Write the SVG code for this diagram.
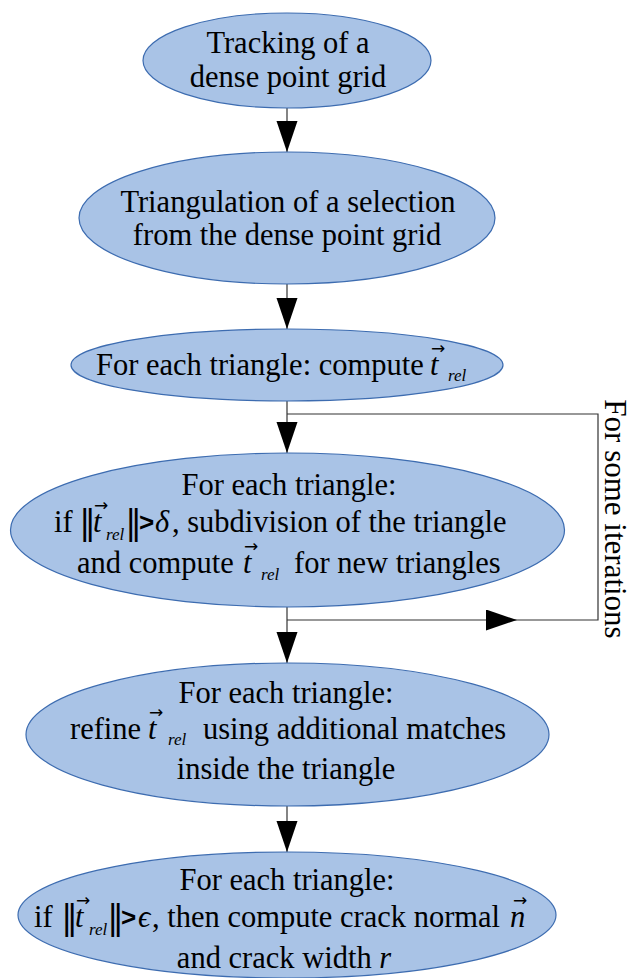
<svg xmlns="http://www.w3.org/2000/svg" width="632" height="978" viewBox="0 0 632 978">
  <style>
    .node { fill: #a9c3e6; stroke: #3d6cb0; stroke-width: 1.2; }
    .t { font-family: "Liberation Serif", "Times New Roman", serif; font-size: 30.5px; fill: #000; }
    .c { text-anchor: middle; }
    .it { font-style: italic; }
    .sub { font-family: "Liberation Serif", "Times New Roman", serif; font-style: italic; font-size: 17px; fill: #000; }
    .vec { font-family: "DejaVu Sans", "Liberation Sans", sans-serif; font-size: 17px; fill: #000; }
    .norm { font-family: "DejaVu Serif", "Liberation Serif", serif; font-size: 34px; fill: #000; }
    .gt { font-family: "Liberation Sans", "DejaVu Sans", sans-serif; font-weight: bold; font-size: 26px; fill: #000; }
    .link { fill: none; stroke: #333; stroke-width: 1.2; }
  </style>
  <defs>
    <marker id="head" markerUnits="userSpaceOnUse" markerWidth="32" markerHeight="22" refX="31" refY="10.5" orient="auto">
      <path d="M0,0 L31,10.5 L0,21 z" fill="#000"/>
    </marker>
  </defs>

  <!-- connectors -->
  <g id="connectors">
    <path class="link" d="M287,108 V152" marker-end="url(#head)"/>
    <path class="link" d="M287,284 V329" marker-end="url(#head)"/>
    <path class="link" d="M287,401 V453" marker-end="url(#head)"/>
    <path class="link" d="M287,606 V663" marker-end="url(#head)"/>
    <path class="link" d="M287,806 V852" marker-end="url(#head)"/>
    <!-- iteration loop -->
    <path class="link" d="M287,620 H517" marker-end="url(#head)"/>
    <path class="link" d="M517,620 H598 V414 H287"/>
    <text class="t c" style="font-size:31px" transform="translate(605,519) rotate(90)">For some iterations</text>
  </g>

  <g id="tracking">
    <ellipse class="node" cx="287" cy="60.5" rx="144" ry="47.5"/>
    <text class="t c" x="288" y="53">Tracking of a</text>
    <text class="t c" x="288" y="87">dense point grid</text>
  </g>

  <g id="triangulation">
    <ellipse class="node" cx="287" cy="218" rx="208" ry="66"/>
    <text class="t c" x="288" y="212">Triangulation of a selection</text>
    <text class="t c" x="287" y="245">from the dense point grid</text>
  </g>

  <g id="compute-trel">
    <ellipse class="node" cx="287" cy="365" rx="216" ry="36"/>
    <text class="t" x="96" y="375">For each triangle: compute</text>
    <text class="t it" x="430" y="375">t</text>
    <text class="vec" x="431" y="354">→</text>
    <text class="sub" x="448" y="381">rel</text>
  </g>

  <g id="subdivision">
    <ellipse class="node" cx="287.5" cy="530" rx="277" ry="77"/>
    <text class="t c" x="289" y="495">For each triangle:</text>
    <text class="t" x="54" y="532">if</text>
    <text class="norm" x="79" y="534">‖</text>
    <text class="t it" x="93" y="532">t</text>
    <text class="vec" x="94" y="511">→</text>
    <text class="sub" x="106" y="540">rel</text>
    <text class="norm" x="125" y="534">‖</text>
    <text class="gt" x="139" y="531">&gt;</text>
    <text class="t it" x="155" y="532">δ</text>
    <text class="t" x="172" y="532">, subdivision of the triangle</text>
    <text class="t" x="77" y="573">and compute</text>
    <text class="t it" x="243" y="573">t</text>
    <text class="vec" x="244" y="552">→</text>
    <text class="sub" x="261" y="580">rel</text>
    <text class="t" x="294" y="573">for new triangles</text>
  </g>

  <g id="refine">
    <ellipse class="node" cx="287.5" cy="734.5" rx="261.5" ry="71.5"/>
    <text class="t c" x="286" y="703">For each triangle:</text>
    <text class="t" x="70" y="739">refine</text>
    <text class="t it" x="148" y="739">t</text>
    <text class="vec" x="149" y="718">→</text>
    <text class="sub" x="168" y="745">rel</text>
    <text class="t" x="203" y="739">using additional matches</text>
    <text class="t c" x="286" y="779">inside the triangle</text>
  </g>

  <g id="crack">
    <ellipse class="node" cx="287" cy="915" rx="269" ry="63"/>
    <text class="t c" x="287" y="890">For each triangle:</text>
    <text class="t" x="34" y="927">if</text>
    <text class="norm" x="61" y="929">‖</text>
    <text class="t it" x="75" y="927">t</text>
    <text class="vec" x="76" y="906">→</text>
    <text class="sub" x="89" y="935">rel</text>
    <text class="norm" x="107" y="929">‖</text>
    <text class="gt" x="121" y="926">&gt;</text>
    <text class="t it" x="138" y="927">ϵ</text>
    <text class="t" x="152" y="927">, then compute crack normal</text>
    <text class="t it" x="510" y="927">n</text>
    <text class="vec" x="513" y="906">→</text>
    <text class="t c" x="284" y="968">and crack width <tspan class="it">r</tspan></text>
  </g>
</svg>
